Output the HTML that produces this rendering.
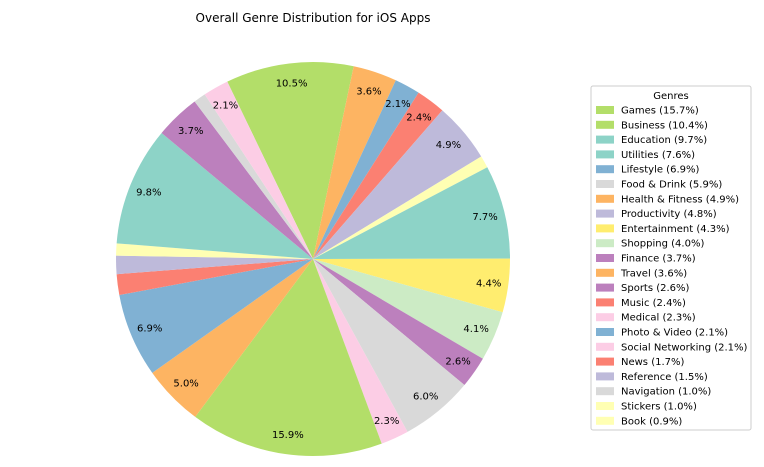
<!DOCTYPE html>
<html><head><meta charset="utf-8"><style>
body{margin:0;background:#fff;font-family:"DejaVu Sans","Liberation Sans",sans-serif;}
svg{display:block;font-family:"DejaVu Sans","Liberation Sans",sans-serif;}
</style></head><body>
<svg id="chart" width="764" height="467" viewBox="0 0 764 467">
<text x="313" y="22" text-anchor="middle" font-size="12" fill="#000">Overall Genre Distribution for iOS Apps</text>
<g id="pie"></g>
<g id="legend">
<rect x="591" y="86" width="160" height="344" fill="#fff" stroke="#ccc" rx="2"/>
<text x="671" y="99" text-anchor="middle" font-size="10">Genres</text>
</g>
</svg>
<script>
const sliceValues=[10.5,3.6,2.1,2.4,4.9,1.0,7.7,4.4,4.1,2.6,6.0,2.3,15.9,5.0,6.9,1.7,1.5,1.0,9.8,3.7,1.0,2.1];
const sliceColors=["#b3de69","#fdb462","#80b1d3","#fb8072","#bebada","#ffffb3","#8dd3c7","#ffed6f","#ccebc5","#bc80bd","#d9d9d9","#fccde5","#b3de69","#fdb462","#80b1d3","#fb8072","#bebada","#ffffb3","#8dd3c7","#bc80bd","#d9d9d9","#fccde5"];
const legendLabels=["Games (15.7%)","Business (10.4%)","Education (9.7%)","Utilities (7.6%)","Lifestyle (6.9%)","Food & Drink (5.9%)","Health & Fitness (4.9%)","Productivity (4.8%)","Entertainment (4.3%)","Shopping (4.0%)","Finance (3.7%)","Travel (3.6%)","Sports (2.6%)","Music (2.4%)","Medical (2.3%)","Photo & Video (2.1%)","Social Networking (2.1%)","News (1.7%)","Reference (1.5%)","Navigation (1.0%)","Stickers (1.0%)","Book (0.9%)"];
const legendColors=["#b3de69","#b3de69","#8dd3c7","#8dd3c7","#80b1d3","#d9d9d9","#fdb462","#bebada","#ffed6f","#ccebc5","#bc80bd","#fdb462","#bc80bd","#fb8072","#fccde5","#80b1d3","#fccde5","#fb8072","#bebada","#d9d9d9","#ffffb3","#ffffb3"];
const NS="http://www.w3.org/2000/svg";
const cx=313,cy=259,R=197,start=-25.8;
const total=sliceValues.reduce((a,b)=>a+b,0);
function pt(deg,r){const a=deg*Math.PI/180;return [cx+r*Math.sin(a),cy-r*Math.cos(a)];}
const pie=document.getElementById('pie');
let ang=start;
sliceValues.forEach((v,i)=>{
  const sweep=v/total*360;const a0=ang,a1=ang+sweep;
  const p0=pt(a0,R),p1=pt(a1,R);
  const p=document.createElementNS(NS,'path');
  p.setAttribute('d',`M${cx},${cy}L${p0[0]},${p0[1]}A${R},${R} 0 ${sweep>180?1:0} 1 ${p1[0]},${p1[1]}Z`);
  p.setAttribute('fill',sliceColors[i]);
  
  
  pie.appendChild(p);
  if(v>=2){
    const lp=pt((a0+a1)/2,R*0.9);
    const t=document.createElementNS(NS,'text');
    t.setAttribute('x',lp[0]);t.setAttribute('y',lp[1]+3.5);
    t.setAttribute('text-anchor','middle');t.setAttribute('font-size','10');
    t.textContent=v.toFixed(1)+'%';
    
    
    pie.appendChild(t);
  }
  ang=a1;
});
const lg=document.getElementById('legend');
legendLabels.forEach((l,i)=>{
  const y=110+i*14.8;
  const r=document.createElementNS(NS,'rect');
  r.setAttribute('x',596);r.setAttribute('y',y-4);r.setAttribute('width',18);r.setAttribute('height',8);
  r.setAttribute('fill',legendColors[i]);
  
  
  lg.appendChild(r);
  const t=document.createElementNS(NS,'text');
  t.setAttribute('x',621);t.setAttribute('y',y+3.5);t.setAttribute('font-size','10');
  t.textContent=l;
  
  
  lg.appendChild(t);
});
</script>
</body></html>
